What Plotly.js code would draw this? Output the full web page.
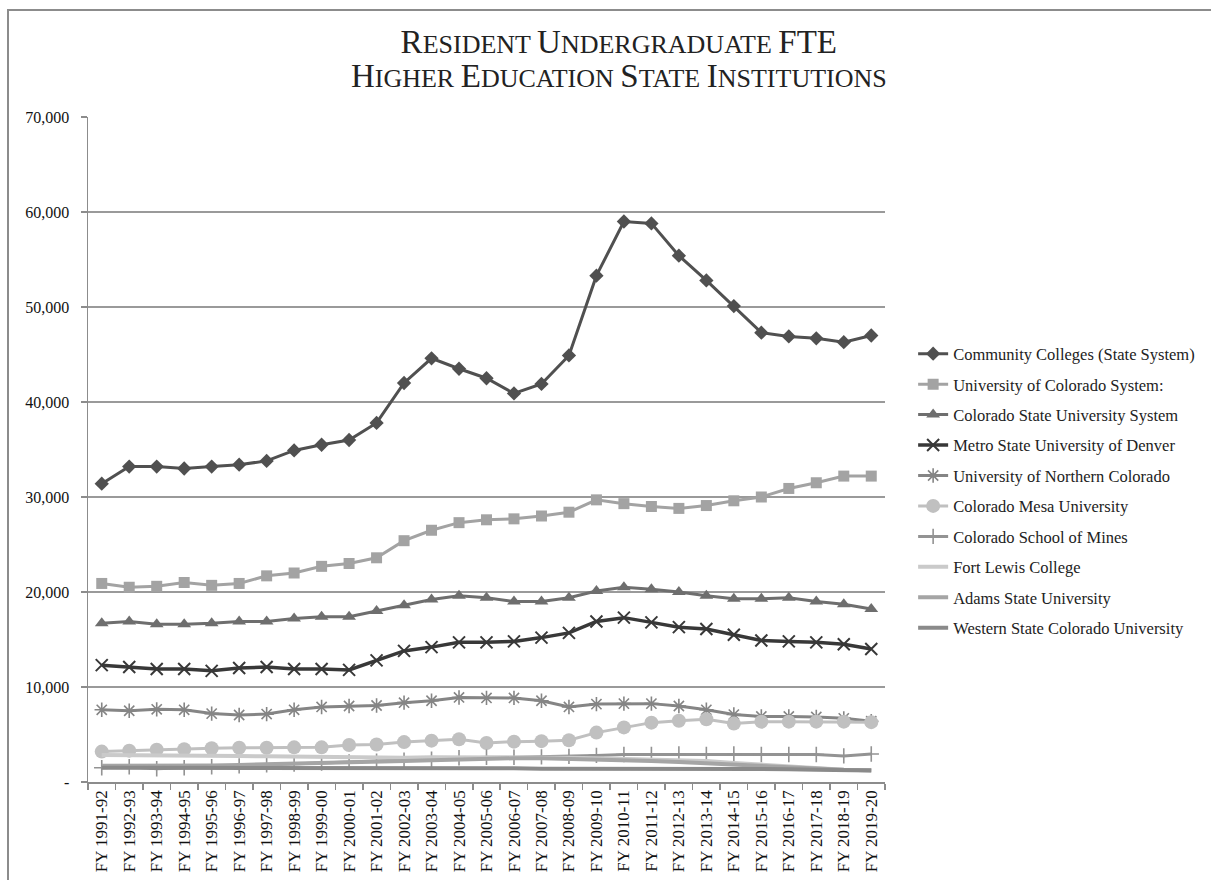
<!DOCTYPE html>
<html><head><meta charset="utf-8">
<script src="https://cdn.plot.ly/plotly-3.0.1.min.js"></script>
<style>
html,body{margin:0;padding:0;background:#fff;}
#chart{width:1211px;height:880px;position:absolute;left:0;top:0;}
#frame{position:absolute;left:7px;top:9px;width:1300px;height:1000px;border-top:2px solid #8c8c8c;border-left:2px solid #8c8c8c;pointer-events:none;}
</style></head>
<body>
<div id="chart"></div>
<div id="frame"></div>
<script>
const categories = ["FY 1991-92","FY 1992-93","FY 1993-94","FY 1994-95","FY 1995-96","FY 1996-97","FY 1997-98","FY 1998-99","FY 1999-00","FY 2000-01","FY 2001-02","FY 2002-03","FY 2003-04","FY 2004-05","FY 2005-06","FY 2006-07","FY 2007-08","FY 2008-09","FY 2009-10","FY 2010-11","FY 2011-12","FY 2012-13","FY 2013-14","FY 2014-15","FY 2015-16","FY 2016-17","FY 2017-18","FY 2018-19","FY 2019-20"];

const communityColleges = [31400,33200,33200,33000,33200,33400,33800,34900,35500,36000,37800,42000,44600,43500,42500,40900,41900,44900,53300,59000,58800,55400,52800,50100,47300,46900,46700,46300,47000];
const univColorado = [20900,20500,20600,21000,20700,20900,21700,22000,22700,23000,23600,25400,26500,27300,27600,27700,28000,28400,29700,29300,29000,28800,29100,29600,30000,30900,31500,32200,32200];
const coloradoState = [16700,16900,16600,16600,16700,16900,16900,17200,17400,17400,18000,18600,19200,19600,19400,19000,19000,19400,20100,20500,20300,20000,19600,19300,19300,19400,19000,18700,18200];
const metroState = [12300,12100,11900,11900,11700,12000,12100,11900,11900,11800,12800,13800,14200,14700,14700,14800,15200,15700,16900,17300,16800,16300,16100,15500,14900,14800,14700,14500,14000];
const northernColorado = [7600,7500,7650,7600,7200,7050,7150,7600,7900,8000,8050,8350,8550,8900,8850,8850,8550,7900,8200,8250,8250,8000,7600,7100,6900,6900,6850,6700,6400];
const coloradoMesa = [3200,3300,3400,3450,3550,3600,3600,3650,3650,3900,3950,4200,4350,4500,4100,4250,4300,4400,5200,5750,6250,6450,6600,6150,6350,6350,6350,6350,6300];
const schoolOfMines = [1500,1600,1400,1500,1600,1700,1800,1900,2000,2100,2200,2300,2400,2550,2600,2600,2650,2700,2800,2900,2900,2950,2900,2950,2900,2900,2900,2750,2950];
const fortLewis = [2850,2850,2800,2800,2800,2750,2700,2650,2600,2550,2550,2550,2600,2600,2650,2650,2600,2550,2500,2450,2400,2300,2200,2000,1800,1600,1450,1300,1250];
const adamsState = [1700,1700,1650,1700,1750,1800,1850,1900,1950,2000,2100,2200,2300,2400,2500,2500,2500,2450,2400,2300,2200,2100,1950,1800,1650,1500,1400,1300,1250];
const westernState = [1500,1500,1450,1450,1500,1500,1550,1500,1500,1550,1550,1550,1500,1500,1450,1450,1400,1400,1400,1450,1450,1450,1400,1400,1400,1350,1300,1250,1200];

const seriesNames = ["Community Colleges (State System)","University of Colorado System:","Colorado State University System","Metro State University of Denver","University of Northern Colorado","Colorado Mesa University","Colorado School of Mines","Fort Lewis College","Adams State University","Western State Colorado University"];

const titleLines = [["Resident","Undergraduate","FTE"],["Higher","Education","State","Institutions"]];

const yTickVals = [0,10000,20000,30000,40000,50000,60000,70000];
const yTickText = ["-","10,000","20,000","30,000","40,000","50,000","60,000","70,000"];

const seriesData = [communityColleges,univColorado,coloradoState,metroState,northernColorado,coloradoMesa,schoolOfMines,fortLewis,adamsState,westernState];
const styles = [
  {color:"#505050", width:3, marker:{symbol:"diamond", size:11, color:"#505050"}},
  {color:"#a3a3a3", width:3, marker:{symbol:"square", size:11, color:"#a3a3a3"}},
  {color:"#6e6e6e", width:3, marker:{symbol:"triangle-up", size:12, color:"#6e6e6e"}},
  {color:"#383838", width:3.5, marker:{symbol:"x-thin-open", size:12, color:"#383838", line:{width:2, color:"#383838"}}},
  {color:"#858585", width:3, marker:{symbol:"asterisk-open", size:12, color:"#858585", line:{width:1.6, color:"#858585"}}},
  {color:"#c0c0c0", width:3, marker:{symbol:"circle", size:14, color:"#c0c0c0"}},
  {color:"#939393", width:3, marker:{symbol:"cross-thin-open", size:11, color:"#939393", line:{width:1.6, color:"#939393"}}},
  {color:"#cacaca", width:4, marker:null},
  {color:"#a5a5a5", width:4, marker:null},
  {color:"#8a8a8a", width:4, marker:null}
];

const traces = seriesNames.map((name, i) => {
  const s = styles[i];
  const t = {
    type:"scatter",
    x: categories,
    y: seriesData[i],
    name: name,
    legendgroup: "g"+i,
    mode: s.marker ? "lines+markers" : "lines",
    line: {color: s.color, width: s.width},
    cliponaxis: false
  };
  if (s.marker) t.marker = s.marker;
  return t;
});

const serif = "Liberation Serif, Times New Roman, serif";
const BIG = 33, SMALL = 26;
function smallCaps(word){
  const up = word.toUpperCase();
  let out = "";
  for (let k = 0; k < word.length; k++) {
    const isCap = word[k] === word[k].toUpperCase();
    out += '<span style="font-size:' + (isCap ? BIG : SMALL) + 'px">' + up[k] + '</span>';
  }
  return out;
}
const titleText = titleLines.map(l => l.map(smallCaps).join(" ")).join("<br>");

const layout = {
  width:1211, height:880,
  paper_bgcolor:"#ffffff", plot_bgcolor:"#ffffff",
  margin:{l:88, r:325, t:117, b:98},
  font:{family:serif, color:"#111", size:16},
  title:{
    text: titleText,
    font:{family:serif, size:26, color:"#222"},
    x:0.511, xref:"container", xanchor:"center",
    y:0.94, yref:"container", yanchor:"top"
  },
  showlegend:true,
  legend:{
    x:1.034, xanchor:"left", y:0.67, yanchor:"top",
    font:{family:serif, size:16.5, color:"#222"},
    tracegroupgap:6,
    bgcolor:"rgba(0,0,0,0)", borderwidth:0
  },
  xaxis:{
    type:"category",
    range:[-0.5, 28.5],
    tickangle:-90,
    tickson:"boundaries",
    ticks:"outside", ticklen:6, tickcolor:"#8c8c8c", tickwidth:1.5,
    showline:true, linecolor:"#8c8c8c", linewidth:1.5,
    showgrid:false, zeroline:false,
    tickfont:{family:serif, size:17, color:"#111"},
    automargin:false, fixedrange:true
  },
  yaxis:{
    range:[0,70000],
    tickvals:yTickVals, ticktext:yTickText,
    ticks:"outside", ticklen:6, tickcolor:"#8c8c8c", tickwidth:1.5,
    showline:true, linecolor:"#8c8c8c", linewidth:1.5,
    showgrid:true, gridcolor:"#9a9a9a", gridwidth:1.5,
    zeroline:false,
    tickfont:{family:serif, size:16, color:"#111"},
    ticklabelstandoff:8,
    automargin:false, fixedrange:true
  }
};

Plotly.newPlot("chart", traces, layout, {staticPlot:true, displayModeBar:false});
</script>
</body></html>
